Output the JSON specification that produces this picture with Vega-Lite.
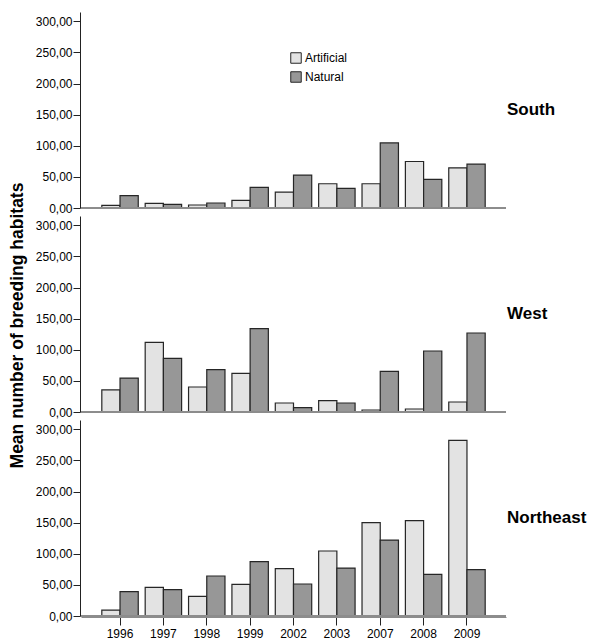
{
  "$schema": "https://vega.github.io/schema/vega-lite/v6.json",
  "padding": {"left": 8, "top": 12, "right": 5, "bottom": 5},
  "config": {"font": "Liberation Sans", "view": {"stroke": null}, "axis": {"grid": false}},
  "title": {"text": "Mean number of breeding habitats", "orient": "left", "anchor": "middle", "fontSize": 17.5, "fontWeight": "bold", "offset": 9, "color": "black"},
  "data": {"values": [
    {"region": "South", "year": "1996", "habitat": "Artificial", "value": 4.3},
    {"region": "South", "year": "1996", "habitat": "Natural", "value": 19.8},
    {"region": "South", "year": "1997", "habitat": "Artificial", "value": 7.5},
    {"region": "South", "year": "1997", "habitat": "Natural", "value": 5.9},
    {"region": "South", "year": "1998", "habitat": "Artificial", "value": 4.8},
    {"region": "South", "year": "1998", "habitat": "Natural", "value": 8},
    {"region": "South", "year": "1999", "habitat": "Artificial", "value": 12.3},
    {"region": "South", "year": "1999", "habitat": "Natural", "value": 33.1},
    {"region": "South", "year": "2002", "habitat": "Artificial", "value": 25.6},
    {"region": "South", "year": "2002", "habitat": "Natural", "value": 52.9},
    {"region": "South", "year": "2003", "habitat": "Artificial", "value": 39},
    {"region": "South", "year": "2003", "habitat": "Natural", "value": 31.5},
    {"region": "South", "year": "2007", "habitat": "Artificial", "value": 39},
    {"region": "South", "year": "2007", "habitat": "Natural", "value": 104.6},
    {"region": "South", "year": "2008", "habitat": "Artificial", "value": 74.7},
    {"region": "South", "year": "2008", "habitat": "Natural", "value": 45.9},
    {"region": "South", "year": "2009", "habitat": "Artificial", "value": 64.6},
    {"region": "South", "year": "2009", "habitat": "Natural", "value": 70.5},
    {"region": "West", "year": "1996", "habitat": "Artificial", "value": 35.4},
    {"region": "West", "year": "1996", "habitat": "Natural", "value": 54.6},
    {"region": "West", "year": "1997", "habitat": "Artificial", "value": 112},
    {"region": "West", "year": "1997", "habitat": "Natural", "value": 86.2},
    {"region": "West", "year": "1998", "habitat": "Artificial", "value": 40.2},
    {"region": "West", "year": "1998", "habitat": "Natural", "value": 68},
    {"region": "West", "year": "1999", "habitat": "Artificial", "value": 62.1},
    {"region": "West", "year": "1999", "habitat": "Natural", "value": 133.9},
    {"region": "West", "year": "2002", "habitat": "Artificial", "value": 14.5},
    {"region": "West", "year": "2002", "habitat": "Natural", "value": 7},
    {"region": "West", "year": "2003", "habitat": "Artificial", "value": 18.2},
    {"region": "West", "year": "2003", "habitat": "Natural", "value": 14.5},
    {"region": "West", "year": "2007", "habitat": "Artificial", "value": 3.2},
    {"region": "West", "year": "2007", "habitat": "Natural", "value": 65.3},
    {"region": "West", "year": "2008", "habitat": "Artificial", "value": 4.8},
    {"region": "West", "year": "2008", "habitat": "Natural", "value": 98},
    {"region": "West", "year": "2009", "habitat": "Artificial", "value": 16.1},
    {"region": "West", "year": "2009", "habitat": "Natural", "value": 127},
    {"region": "Northeast", "year": "1996", "habitat": "Artificial", "value": 9.6},
    {"region": "Northeast", "year": "1996", "habitat": "Natural", "value": 39.1},
    {"region": "Northeast", "year": "1997", "habitat": "Artificial", "value": 46},
    {"region": "Northeast", "year": "1997", "habitat": "Natural", "value": 42.3},
    {"region": "Northeast", "year": "1998", "habitat": "Artificial", "value": 31.6},
    {"region": "Northeast", "year": "1998", "habitat": "Natural", "value": 64.3},
    {"region": "Northeast", "year": "1999", "habitat": "Artificial", "value": 50.9},
    {"region": "Northeast", "year": "1999", "habitat": "Natural", "value": 87.3},
    {"region": "Northeast", "year": "2002", "habitat": "Artificial", "value": 76},
    {"region": "Northeast", "year": "2002", "habitat": "Natural", "value": 51.4},
    {"region": "Northeast", "year": "2003", "habitat": "Artificial", "value": 104.5},
    {"region": "Northeast", "year": "2003", "habitat": "Natural", "value": 77.1},
    {"region": "Northeast", "year": "2007", "habitat": "Artificial", "value": 150},
    {"region": "Northeast", "year": "2007", "habitat": "Natural", "value": 122},
    {"region": "Northeast", "year": "2008", "habitat": "Artificial", "value": 153.2},
    {"region": "Northeast", "year": "2008", "habitat": "Natural", "value": 67},
    {"region": "Northeast", "year": "2009", "habitat": "Artificial", "value": 282.3},
    {"region": "Northeast", "year": "2009", "habitat": "Natural", "value": 74.5}
  ]},
  "facet": {"row": {"field": "region", "type": "nominal", "sort": ["South", "West", "Northeast"], "header": {"title": null, "labelOrient": "right", "labelAngle": 0, "labelFontSize": 17, "labelFontWeight": "bold", "labelPadding": 0, "labelColor": "black"}}},
  "spacing": 7,
  "spec": {
    "width": 425,
    "height": 196,
    "layer": [
      {
        "mark": {"type": "bar", "stroke": "#262626", "strokeWidth": 1.2},
        "encoding": {
          "x": {"field": "year", "type": "nominal", "title": null, "scale": {"paddingInner": 0.16, "paddingOuter": 0.48}, "axis": {"labelAngle": 0, "labelFontSize": 12, "labelColor": "black", "domainColor": "#8c8c8c", "tickColor": "#222222", "tickSize": 8, "labelPadding": 3}},
          "xOffset": {"field": "habitat", "type": "nominal", "scale": {"paddingInner": 0, "paddingOuter": 0}},
          "y": {"field": "value", "type": "quantitative", "title": null, "scale": {"domain": [0, 315], "nice": false}, "axis": {"values": [0, 50, 100, 150, 200, 250, 300], "tickCount": 7, "labelOverlap": false, "labelExpr": "replace(format(datum.value, '.2f'), '.', ',')", "labelFontSize": 12, "labelColor": "black", "domainColor": "#222222", "tickColor": "#222222", "tickSize": 7, "labelPadding": 1}},
          "color": {"field": "habitat", "type": "nominal", "scale": {"domain": ["Artificial", "Natural"], "range": ["#e3e3e3", "#979797"]}, "legend": {"title": null, "orient": "none", "legendX": 209, "legendY": 40, "symbolType": "square", "symbolSize": 110, "symbolStrokeColor": "#262626", "symbolStrokeWidth": 1, "labelFontSize": 12, "labelColor": "black", "rowPadding": 3, "labelOffset": 3}}
        }
      },
      {"mark": {"type": "rule", "color": "#8c8c8c"}, "encoding": {"y": {"datum": 0}}}
    ]
  }
}
